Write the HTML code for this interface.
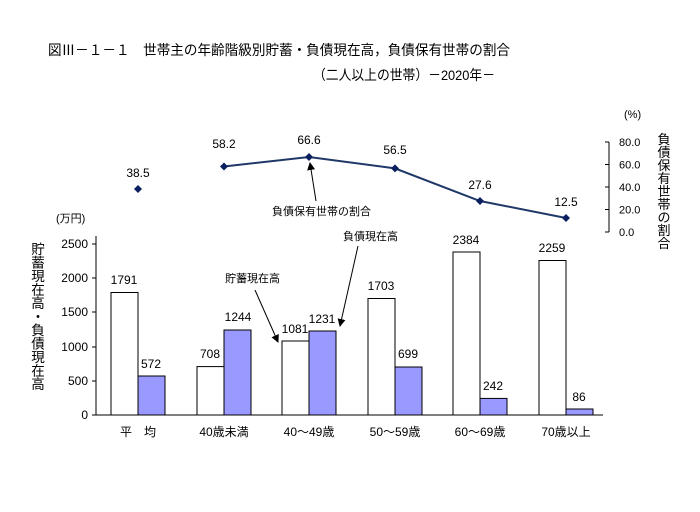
<!DOCTYPE html>
<html><head><meta charset="utf-8"><style>
body{margin:0;background:#fff}
svg{display:block;font-family:"Liberation Sans","Noto Sans CJK JP",sans-serif}
</style></head><body>
<svg width="700" height="512" viewBox="0 0 700 512" xmlns="http://www.w3.org/2000/svg">
<defs><marker id="ah" markerWidth="8" markerHeight="8" refX="7" refY="4" orient="auto"><path d="M0,0 L8,4 L0,8 z" fill="#000"/></marker></defs>
<text x="48" y="55" font-size="14" textLength="462" lengthAdjust="spacingAndGlyphs" fill="#000">図Ⅲ－１－１　世帯主の年齢階級別貯蓄・負債現在高，負債保有世帯の割合</text>
<text x="313" y="80" font-size="14" textLength="182" lengthAdjust="spacingAndGlyphs" fill="#000">（二人以上の世帯）－2020年－</text>
<line x1="96" y1="236" x2="96" y2="415" stroke="#000"/>
<line x1="96" y1="415" x2="603" y2="415" stroke="#000"/>
<g stroke="#000"><line x1="92" y1="244" x2="96" y2="244"/><line x1="92" y1="278" x2="96" y2="278"/><line x1="92" y1="312" x2="96" y2="312"/><line x1="92" y1="347" x2="96" y2="347"/><line x1="92" y1="381" x2="96" y2="381"/><line x1="92" y1="415" x2="96" y2="415"/></g>
<g font-size="12" text-anchor="end" fill="#000"><text x="88" y="248">2500</text><text x="88" y="282">2000</text><text x="88" y="316">1500</text><text x="88" y="351">1000</text><text x="88" y="385">500</text><text x="88" y="419">0</text></g>
<text x="56" y="222" font-size="11">(万円)</text>
<g font-size="13.5" text-anchor="middle"><text x="38" y="254">貯</text><text x="38" y="267.5">蓄</text><text x="38" y="281">現</text><text x="38" y="294.5">在</text><text x="38" y="308">高</text><text x="38" y="321.5">・</text><text x="38" y="335">負</text><text x="38" y="348.5">債</text><text x="38" y="362">現</text><text x="38" y="375.5">在</text><text x="38" y="389">高</text></g>
<g stroke="#000" stroke-width="1">
<rect x="111" y="292.5" width="27" height="122.5" fill="#fff"/><rect x="138" y="376" width="27" height="39" fill="#9999ff"/>
<rect x="197" y="366.6" width="27" height="48.4" fill="#fff"/><rect x="224" y="330" width="27" height="85" fill="#9999ff"/>
<rect x="282" y="341" width="27" height="74" fill="#fff"/><rect x="309" y="331" width="27" height="84" fill="#9999ff"/>
<rect x="368" y="298.5" width="27" height="116.5" fill="#fff"/><rect x="395" y="367" width="27" height="48" fill="#9999ff"/>
<rect x="453" y="252" width="27" height="163" fill="#fff"/><rect x="480" y="398.4" width="27" height="16.6" fill="#9999ff"/>
<rect x="539" y="260.5" width="27" height="154.5" fill="#fff"/><rect x="566" y="409" width="27" height="6" fill="#9999ff"/>
</g>
<g font-size="12" text-anchor="middle">
<text x="124" y="284">1791</text><text x="151" y="368">572</text>
<text x="210" y="358">708</text><text x="238" y="321">1244</text>
<text x="295" y="333">1081</text><text x="322" y="323">1231</text>
<text x="381" y="290">1703</text><text x="408" y="358">699</text>
<text x="466" y="244">2384</text><text x="493" y="390">242</text>
<text x="552" y="252">2259</text><text x="579" y="401">86</text>
</g>
<g font-size="12" text-anchor="middle">
<text x="138" y="436">平　均</text><text x="224" y="436">40歳未満</text><text x="309" y="436">40～49歳</text><text x="395" y="436">50～59歳</text><text x="480" y="436">60～69歳</text><text x="566" y="436">70歳以上</text>
</g>
<text x="225" y="282" font-size="11">貯蓄現在高</text>
<line x1="255" y1="290" x2="278" y2="342" stroke="#000" marker-end="url(#ah)"/>
<text x="343" y="240" font-size="11">負債現在高</text>
<line x1="358" y1="246" x2="340" y2="326" stroke="#000" marker-end="url(#ah)"/>
<text x="272" y="215" font-size="11">負債保有世帯の割合</text>
<line x1="316" y1="201" x2="310" y2="163" stroke="#000" marker-end="url(#ah)"/>
<line x1="609" y1="142" x2="609" y2="232" stroke="#000"/>
<g stroke="#000"><line x1="605" y1="142" x2="609" y2="142"/><line x1="605" y1="164.5" x2="609" y2="164.5"/><line x1="605" y1="187" x2="609" y2="187"/><line x1="605" y1="209.5" x2="609" y2="209.5"/><line x1="605" y1="232" x2="609" y2="232"/></g>
<g font-size="11"><text x="619" y="146">80.0</text><text x="619" y="168.5">60.0</text><text x="619" y="191">40.0</text><text x="619" y="213.5">20.0</text><text x="619" y="236">0.0</text></g>
<text x="624" y="118" font-size="11">(%)</text>
<g font-size="13" text-anchor="middle"><text x="664" y="144">負</text><text x="664" y="157">債</text><text x="664" y="170">保</text><text x="664" y="183">有</text><text x="664" y="196">世</text><text x="664" y="209">帯</text><text x="664" y="222">の</text><text x="664" y="235">割</text><text x="664" y="248">合</text></g>
<polyline points="224,166.5 309,157 395,168.4 480,201 566,218" fill="none" stroke="#1f3868" stroke-width="2"/>
<g fill="#0a2060">
<path d="M138,185 l4,4 l-4,4 l-4,-4z"/><path d="M224,162.5 l4,4 l-4,4 l-4,-4z"/><path d="M309,153 l4,4 l-4,4 l-4,-4z"/><path d="M395,164.4 l4,4 l-4,4 l-4,-4z"/><path d="M480,197 l4,4 l-4,4 l-4,-4z"/><path d="M566,214 l4,4 l-4,4 l-4,-4z"/>
</g>
<g font-size="12" text-anchor="middle">
<text x="138" y="177">38.5</text><text x="224" y="148">58.2</text><text x="309" y="144">66.6</text><text x="395" y="154">56.5</text><text x="480" y="189">27.6</text><text x="566" y="206">12.5</text>
</g>
</svg>
</body></html>
